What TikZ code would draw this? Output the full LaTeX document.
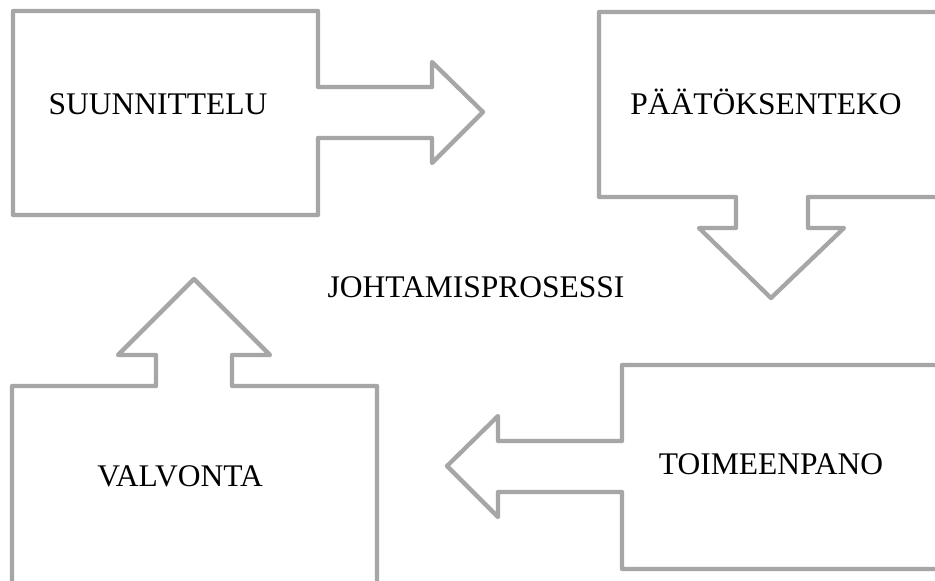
\documentclass[tikz,border=0pt]{standalone}
\usepackage{fontspec}
\setmainfont{Liberation Serif}
\begin{document}
\begin{tikzpicture}[x=1pt,y=-1pt,
  callout/.style={draw=calloutgray,line width=4.3pt,line join=round,line cap=round,fill=white},
  label/.style={font=\fontsize{31.5}{37}\selectfont,text=black,inner sep=0pt}]
\definecolor{calloutgray}{HTML}{A6A6A6}
\useasboundingbox (0,0) rectangle (935,581);
\clip (0,0) rectangle (935,581);
\fill[white] (0,0) rectangle (935,581);
% planning box with right-pointing arrow
\draw[callout] (13,11) -- (318,11) -- (318,87) -- (432,87) -- (432,62) -- (483,112)
  -- (432,163) -- (432,138) -- (318,138) -- (318,215) -- (13,215) -- cycle;
% decision box with downward arrow
\draw[callout] (599,12) -- (960,12) -- (960,197) -- (808,197) -- (808,228) -- (844,228)
  -- (771,298) -- (699,228) -- (736,228) -- (736,197) -- (599,197) -- cycle;
% execution box with left-pointing arrow
\draw[callout] (960,365) -- (622,365) -- (622,441) -- (498,441) -- (498,416) -- (447,466)
  -- (498,517) -- (498,492) -- (622,492) -- (622,569) -- (960,569) -- cycle;
% control box with upward arrow
\draw[callout] (12,600) -- (12,386) -- (156,386) -- (156,355) -- (118,355) -- (194,279)
  -- (270,355) -- (232,355) -- (232,386) -- (377,386) -- (377,600) -- cycle;
\node[label] (suunnittelu) at (158,104) {SUUNNITTELU};
\node[label] (paatoksenteko) at (766,102) {PÄÄTÖKSENTEKO};
\node[label] (toimeenpano) at (771,464) {TOIMEENPANO};
\node[label] (valvonta) at (180,476) {VALVONTA};
\node[label] (johtamisprosessi) at (476,287) {JOHTAMISPROSESSI};
\end{tikzpicture}
\end{document}
